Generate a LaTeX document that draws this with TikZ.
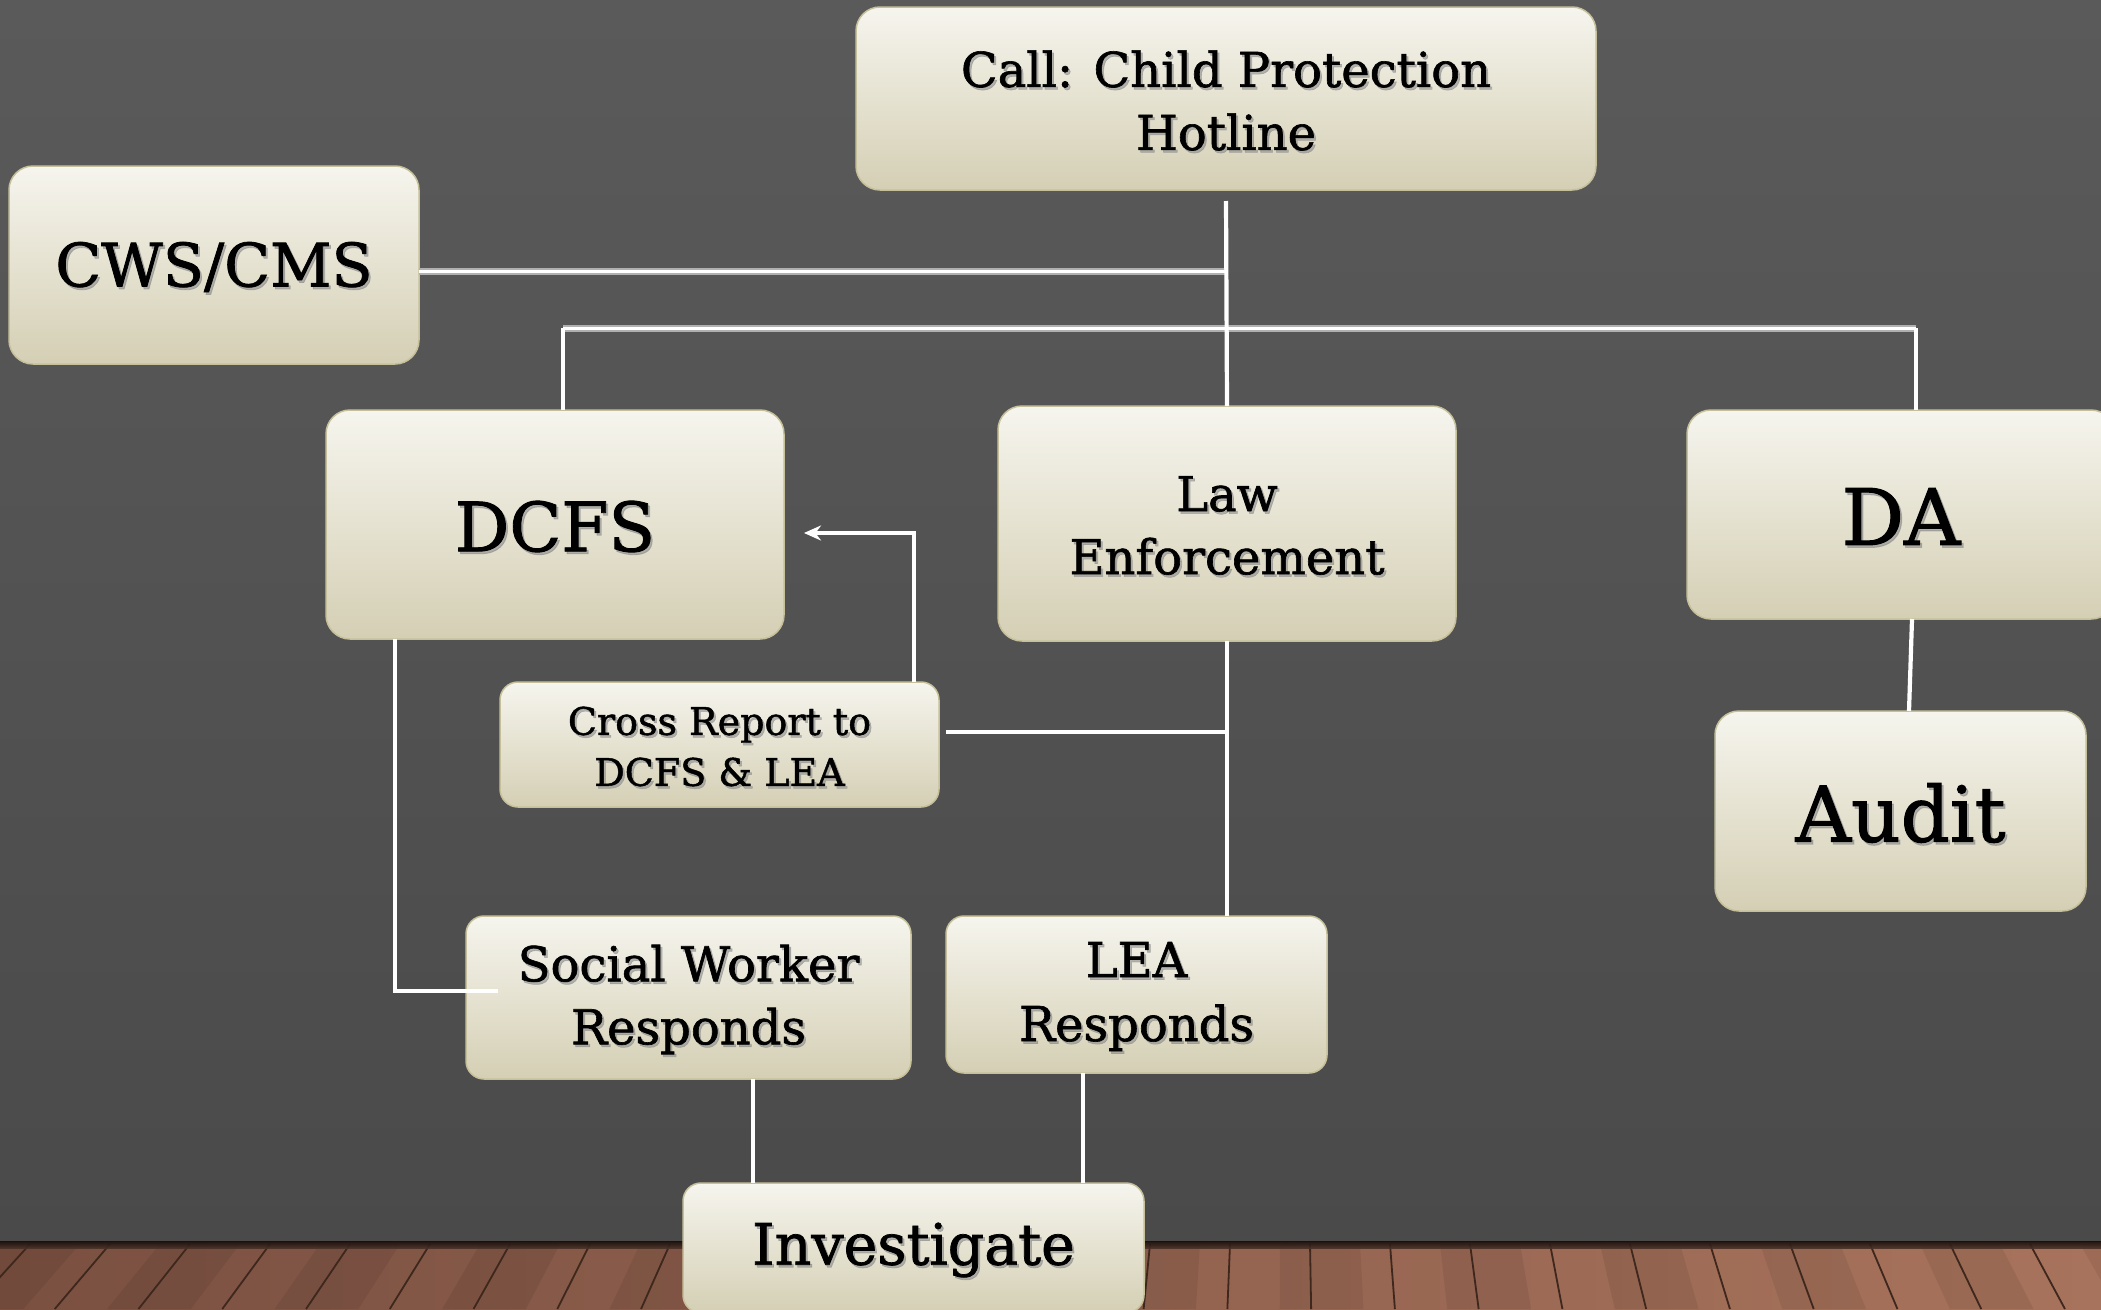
\documentclass[tikz,border=0pt]{standalone}
\usepackage{fontspec}
\setmainfont{DejaVu Serif}[BoldFont={DejaVu Serif}, BoldFeatures={FakeBold=1.3}]
\usetikzlibrary{arrows.meta}
\definecolor{wallTop}{HTML}{5A5A5A}
\definecolor{wallBot}{HTML}{4A4A4A}
\definecolor{boxTop}{HTML}{F6F5EE}
\definecolor{boxBot}{HTML}{D4CFB4}
\definecolor{boxEdge}{HTML}{C6C09A}
\definecolor{woodL}{HTML}{7A5041}
\definecolor{woodR}{HTML}{A8735C}
\definecolor{woodLine}{HTML}{3E271D}
\definecolor{barGray}{HTML}{B0B0B0}
\newcommand\btext[4]{%
  \node[txtsh, font=\fontsize{#2}{#3}\selectfont\bfseries] (#1-sh) at ([xshift=2pt,yshift=-4.5pt]#1.center) {#4};
  \node[txtmain, font=\fontsize{#2}{#3}\selectfont\bfseries] (#1-tx) at ([yshift=-2pt]#1.center) {#4};}
\begin{document}
\begin{tikzpicture}[x=1pt,y=-1pt,
  boxsty/.style={draw=boxEdge, line width=1.5pt, top color=boxTop, bottom color=boxBot,
    rounded corners=24pt, inner sep=0pt, outer sep=0pt},
  smallbox/.style={boxsty, rounded corners=18pt},
  txtsh/.style={text=black!45, opacity=0.6, align=center, inner sep=0pt},
  txtmain/.style={text=black, align=center, inner sep=0pt},
  wire/.style={draw=white, line width=4.2pt},
  barout/.style={draw=barGray, line width=7pt},
  barin/.style={draw=white, line width=3pt},
  arrowwire/.style={wire, -{Stealth[length=17pt,width=15pt]}}
]
\useasboundingbox (0,0) rectangle (2101,1309);
\clip (0,0) rectangle (2101,1309);
% wall
\shade[top color=wallTop, bottom color=wallBot] (0,0) rectangle (2101,1244);
% floor
\shade[left color=woodL, right color=woodR] (0,1242) rectangle (2101,1309);
\foreach \i in {-2,0,...,30} {
  \pgfmathsetmacro{\xa}{\i*80}
  \pgfmathsetmacro{\xb}{\i*80+80}
  \fill[black, opacity=0.07] (\xa,1244) -- (\xb,1244)
     -- ({\xb+0.047*(\xb-1286)},1309) -- ({\xa+0.047*(\xa-1286)},1309) -- cycle;
}
\foreach \i in {-2,...,30} {
  \pgfmathsetmacro{\xa}{\i*80+30}
  \draw[woodLine, line width=1.8pt] (\xa,1244) -- ({\xa+0.047*(\xa-1286)},1309);
}
\shade[top color=black!85!woodL, bottom color=woodL!60!black, opacity=0.9] (0,1241) rectangle (2101,1248);

% boxes
\node[boxsty, minimum width=740pt, minimum height=183pt] (call) at (1226,98.5) {};
\node[boxsty, minimum width=410pt, minimum height=198pt] (cws) at (214,265) {};
\node[boxsty, minimum width=458pt, minimum height=229pt] (dcfs) at (555,524.5) {};
\node[boxsty, minimum width=458pt, minimum height=235pt] (law) at (1227,523.5) {};
\node[boxsty, minimum width=428pt, minimum height=209pt] (da) at (1901,514.5) {};
\node[boxsty, minimum width=371pt, minimum height=200pt] (audit) at (1900.5,811) {};
\node[smallbox, minimum width=439pt, minimum height=125pt] (cross) at (719.5,744.5) {};
\node[smallbox, minimum width=445pt, minimum height=163pt] (sw) at (688.5,997.5) {};
\node[smallbox, minimum width=381pt, minimum height=157pt] (lea) at (1136.5,994.5) {};
\node[smallbox, minimum width=461pt, minimum height=130pt] (inv) at (913.5,1248) {};

% junction coordinates
\coordinate (jc) at (1227,271);
\coordinate (tl) at (563,328);
\coordinate (tr) at (1916,328);
\coordinate (dl) at (395,991);
\coordinate (swin) at (498,991);
\coordinate (crj) at (1227,732);
\coordinate (arrA) at (914,533);
\coordinate (arrT) at (804,533);

% double bars
\draw[barout] ([yshift=-6pt]cws.east) -- (jc);
\draw[barin] ([yshift=-6pt]cws.east) -- (jc);
\draw[barout] (tl) -- (tr);
\draw[barin] (tl) -- (tr);
% wires
\draw[wire] ([yshift=-11pt]call.south) -- (law.north);
\draw[wire] (tl) -- (tl |- dcfs.north);
\draw[wire] (tr) -- (tr |- da.north);
\draw[wire] (1912,619) -- (1909,711);
\draw[wire] (dl |- dcfs.south) -- (dl) -- (swin);
\draw[wire] (law.south) -- (law.south |- lea.north);
\draw[wire] ([xshift=7pt]cross.east |- crj) -- (crj);
\draw[arrowwire] (cross.north -| arrA) -- (arrA) -- (arrT);
\draw[wire] (753,1079) -- (753,1183);
\draw[wire] (1083,1073) -- (1083,1183);

% texts
\btext{call}{48}{63}{Call: Child Protection\\Hotline}
\btext{cws}{60}{72}{CWS/CMS}
\btext{dcfs}{68}{80}{DCFS}
\btext{law}{48}{63}{Law\\Enforcement}
\btext{da}{78}{90}{DA}
\btext{audit}{77}{90}{Audit}
\btext{cross}{38}{51}{Cross Report to\\DCFS \& LEA}
\btext{sw}{48}{63}{Social Worker\\Responds}
\btext{lea}{48}{64}{LEA\\Responds}
\btext{inv}{57}{68}{Investigate}
\end{tikzpicture}
\end{document}
